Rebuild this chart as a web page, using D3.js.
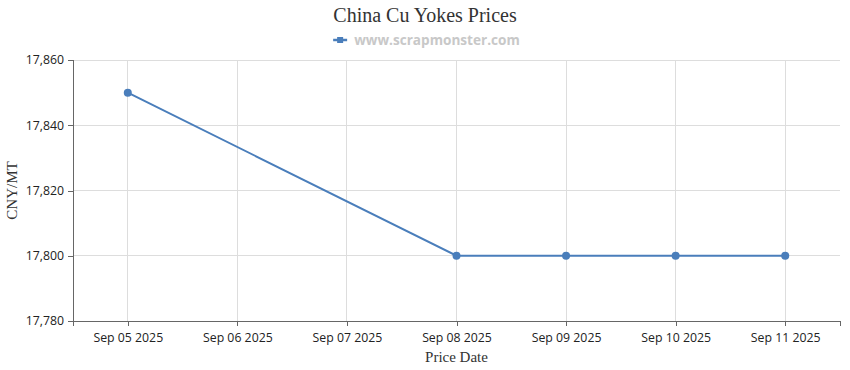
<!DOCTYPE html>
<html><head><meta charset="utf-8">
<script src="https://cdn.jsdelivr.net/npm/d3@7"></script>
<style>body{margin:0;background:#fff}svg{display:block}</style>
</head><body>
<script>
const dates = ["2025-09-05","2025-09-08","2025-09-09","2025-09-10","2025-09-11"];
const prices = [17850,17800,17800,17800,17800];
const tickDates = ["2025-09-05","2025-09-06","2025-09-07","2025-09-08","2025-09-09","2025-09-10","2025-09-11"];
const yTicks = [17780,17800,17820,17840,17860];
const title = "China Cu Yokes Prices";
const legendLabel = "www.scrapmonster.com";

const W=850,H=370, m={l:73,r:10,t:60,b:49};
const color="#4a7ebb";
const parse=d3.utcParse("%Y-%m-%d");
const svg=d3.select("body").append("svg").attr("width",W).attr("height",H);
const dStart=d3.utcHour.offset(parse(tickDates[0]),-12), dEnd=d3.utcHour.offset(parse(tickDates[tickDates.length-1]),12);
const x=d3.scaleUtc().domain([dStart,dEnd]).range([m.l,W-m.r]);
const y=d3.scaleLinear().domain([17780,17860]).range([H-m.b,m.t]);
const fmt=d3.format(",");
const tf=d3.utcFormat("%b %d %Y");

// grid
svg.append("g").selectAll("line").data(yTicks).join("line")
 .attr("x1",m.l).attr("x2",W-m.r).attr("y1",d=>y(d)).attr("y2",d=>y(d))
 .attr("stroke","#dddddd").attr("shape-rendering","crispEdges");
svg.append("g").selectAll("line").data(tickDates).join("line")
 .attr("x1",d=>x(parse(d))).attr("x2",d=>x(parse(d))).attr("y1",m.t).attr("y2",H-m.b)
 .attr("stroke","#dddddd").attr("shape-rendering","crispEdges");

const xa=svg.append("g").attr("transform",`translate(0,${H-m.b})`)
 .call(d3.axisBottom(x).tickValues(tickDates.map(parse)).tickFormat(tf).tickSizeOuter(0).tickSize(5).tickPadding(7));
const ya=svg.append("g").attr("transform",`translate(${m.l},0)`)
 .call(d3.axisLeft(y).tickValues(yTicks).tickFormat(fmt).tickSizeOuter(0).tickSize(5).tickPadding(4));
[xa,ya].forEach(a=>{a.selectAll("path,line").attr("stroke","#666").attr("shape-rendering","crispEdges");
 a.selectAll("text").attr("font-family","'Open Sans', 'DejaVu Sans', sans-serif").attr("font-size",12.3).attr("fill","#222");});

const line=d3.line().x((d,i)=>x(parse(dates[i]))).y(d=>y(d));
svg.append("path").datum(prices).attr("d",line).attr("fill","none").attr("stroke",color).attr("stroke-width",2);
svg.append("g").selectAll("circle").data(prices).join("circle")
 .attr("cx",(d,i)=>x(parse(dates[i]))).attr("cy",d=>y(d)).attr("r",4).attr("fill",color);

svg.append("text").attr("x",W/2).attr("y",22).attr("text-anchor","middle")
 .attr("font-family","'Liberation Serif', serif").attr("font-size",20).attr("fill","#333").text(title);
const lg=svg.append("g");
const lt=lg.append("text").attr("x",437).attr("y",45).attr("text-anchor","middle")
 .attr("font-family","'Open Sans', 'DejaVu Sans', sans-serif").attr("font-weight","bold").attr("font-size",13.6).attr("fill","#c8c8c8").text(legendLabel);
const bb=lt.node().getBBox();
lg.append("line").attr("x1",bb.x-21).attr("x2",bb.x-7).attr("y1",40).attr("y2",40).attr("stroke",color).attr("stroke-width",2.5);
lg.append("rect").attr("x",bb.x-17).attr("y",37).attr("width",6).attr("height",6).attr("fill",color);

svg.append("text").attr("x",(m.l+W-m.r)/2).attr("y",H-8).attr("text-anchor","middle")
 .attr("font-family","'Liberation Serif', serif").attr("font-size",15).attr("fill","#333").text("Price Date");
svg.append("text").attr("transform",`translate(17,${(m.t+H-m.b)/2}) rotate(-90)`).attr("text-anchor","middle")
 .attr("font-family","'Liberation Serif', serif").attr("font-size",15).attr("fill","#333").text("CNY/MT");
</script>
</body></html>
